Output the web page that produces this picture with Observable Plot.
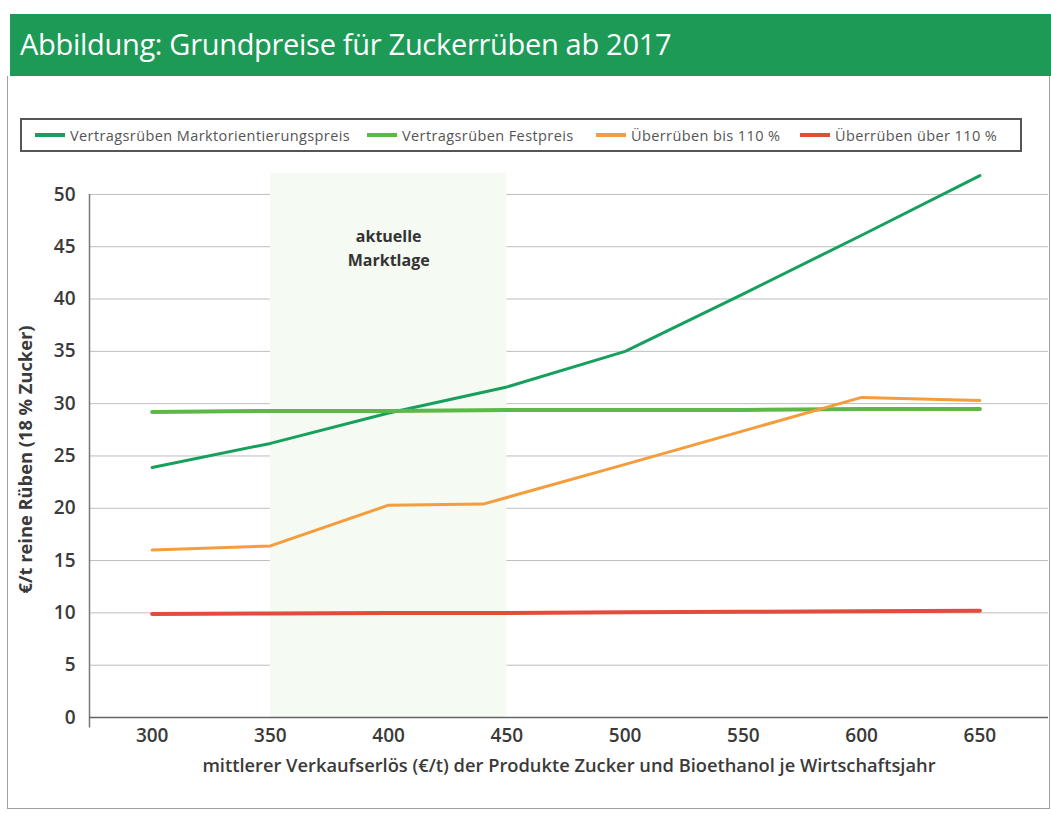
<!DOCTYPE html>
<html><head><meta charset="utf-8">
<script src="https://cdn.jsdelivr.net/npm/d3@7"></script>
<script src="https://cdn.jsdelivr.net/npm/@observablehq/plot@0.6"></script>
<style>
body{margin:0;background:#fff;font-family:"Open Sans",sans-serif;}
#page{position:relative;width:1051px;height:814px;overflow:hidden;background:#fff;}
#banner{position:absolute;left:10px;top:14px;width:1041px;height:62px;background:#1c9a56;}
#title{position:absolute;left:20px;top:24px;color:#fff;font-size:29px;font-weight:400;letter-spacing:-0.3px;white-space:nowrap;}
#frame{position:absolute;left:7px;top:76px;width:1041px;height:732px;border:1.5px solid #a0a0a0;border-top:none;}
#legend{position:absolute;left:20px;top:118px;width:998px;height:30px;border:2px solid #555;font-size:14.5px;letter-spacing:0.4px;color:#555;white-space:nowrap;}
.item{position:absolute;top:0;height:30px;display:flex;align-items:center;}
.sw{width:30px;height:4px;margin-right:5px;}
#chart{position:absolute;left:0;top:160px;}
</style></head>
<body><div id="page">
<div id="banner"></div>
<div id="title"></div>
<div id="frame"></div>
<div id="legend"></div>
<div id="chart"></div>
</div>
<script>
const titleText = "Abbildung: Grundpreise für Zuckerrüben ab 2017";
const seriesNames = ["Vertragsrüben Marktorientierungspreis","Vertragsrüben Festpreis","Überrüben bis 110 %","Überrüben über 110 %"];
const seriesColors = ["#17a05d","#5db847","#f59c3c","#e34b3d"];
const xValues = [300,350,400,450,500,550,600,650];
const marktorientierung = [23.9,26.2,29.1,31.6,35.0,40.5,46.1,51.8];
const festpreis = [29.2,29.3,29.3,29.4,29.4,29.4,29.5,29.5];
const ueberX = [300,350,400,440,500,550,600,650];
const ueberBis110 = [16.0,16.4,20.3,20.4,24.2,27.4,30.6,30.3];
const ueberUeber110 = [9.9,9.95,10.0,10.0,10.05,10.1,10.15,10.2];
const xTicks = [300,350,400,450,500,550,600,650];
const yTicks = [0,5,10,15,20,25,30,35,40,45,50];
const bandRange = [350,450];
const annotation = [{x:400,y:45,text:"aktuelle\nMarktlage"}];
const xLabel = "mittlerer Verkaufserlös (€/t) der Produkte Zucker und Bioethanol je Wirtschaftsjahr";
const yLabel = "€/t reine Rüben (18 % Zucker)";

document.getElementById("title").textContent = titleText;
const leg = document.getElementById("legend");
const itemLeft = [13,345,574,778];
seriesNames.forEach((n,i)=>{
  const it = document.createElement("div"); it.className="item";
  it.style.left = itemLeft[i]+"px";
  const sw = document.createElement("div"); sw.className="sw"; sw.style.background=seriesColors[i];
  const t = document.createElement("span"); t.textContent=n;
  it.appendChild(sw); it.appendChild(t); leg.appendChild(it);
});

const widths = {};
seriesNames.forEach((n,i)=>widths[n] = [3,4,3,4][i]);
const rows = [];
xValues.forEach((x,i)=>{
  rows.push({s:seriesNames[0],x,y:marktorientierung[i]});
  rows.push({s:seriesNames[1],x,y:festpreis[i]});
  rows.push({s:seriesNames[3],x,y:ueberUeber110[i]});
});
ueberX.forEach((x,i)=>rows.push({s:seriesNames[2],x,y:ueberBis110[i]}));

const chart = Plot.plot({
  width:1051, height:640,
  marginLeft:89, marginRight:3, marginTop:13, marginBottom:83,
  style:{fontFamily:"Open Sans, sans-serif", fontSize:"19px", color:"#333", background:"transparent"},
  x:{domain:[273.5,679]},
  y:{domain:[0,52]},
  color:{domain:seriesNames, range:seriesColors},
  marks:[
    Plot.gridY(yTicks.filter(d=>d>0), {stroke:"#bdbdbd", strokeOpacity:1, strokeWidth:1}),
    Plot.rect([bandRange], {x1:d=>d[0], x2:d=>d[1], y1:0, y2:52, fill:"#f5faf2"}),
    Plot.ruleX([273.5], {y1:-1, y2:50, stroke:"#777", strokeWidth:1.5}),
    Plot.ruleY([0], {stroke:"#666", strokeWidth:1.5}),
    Plot.axisY({ticks:yTicks, tickSize:0, tickPadding:14, label:null, fontWeight:600, fill:"#3a3a3a", fontSize:19}),
    Plot.axisX({ticks:xTicks, tickSize:0, tickPadding:11, label:null, fontWeight:600, fill:"#3a3a3a", fontSize:19}),
    Plot.text([xLabel], {frameAnchor:"bottom", dy:54, fontWeight:600, fill:"#3a3a3a", fontSize:18.3}),
    Plot.text([yLabel], {frameAnchor:"left", textAnchor:"middle", rotate:-90, dx:-63, dy:14, fontWeight:700, fill:"#3a3a3a", fontSize:18.3}),
    Plot.text(annotation, {x:"x", y:"y", text:"text", fontWeight:700, fill:"#333", fontSize:16, lineHeight:1.5}),
    Plot.line(rows, {x:"x", y:"y", z:"s", stroke:"s", strokeWidth:d=>widths[d.s], curve:"linear"}),
  ]
});
document.getElementById("chart").appendChild(chart);
</script>
</body></html>
